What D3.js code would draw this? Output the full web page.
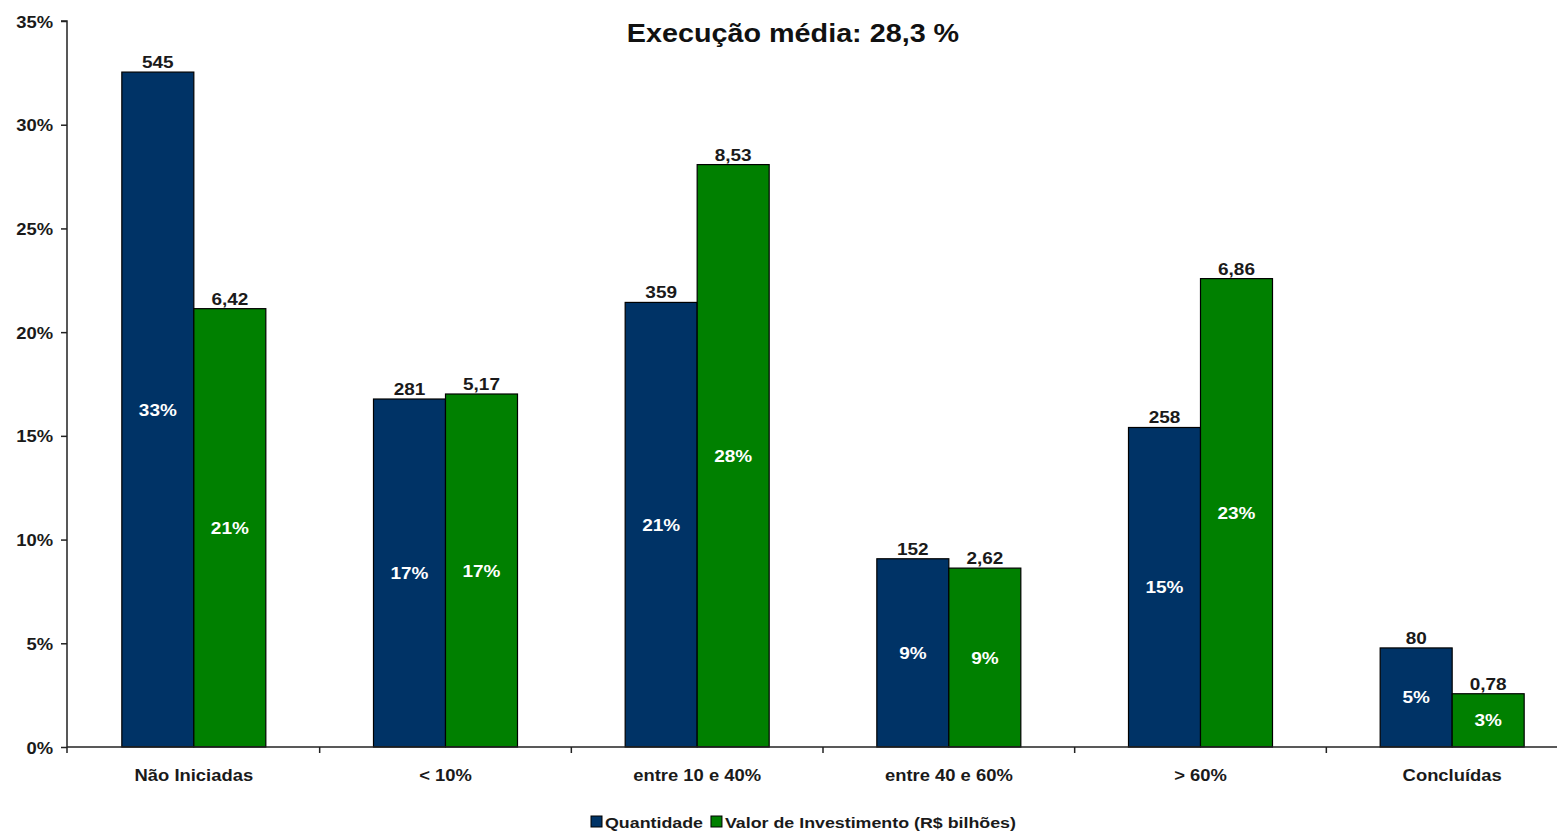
<!DOCTYPE html>
<html>
<head>
<meta charset="utf-8">
<script src="https://cdn.jsdelivr.net/npm/d3@7"></script>
<style>
  html, body { margin: 0; padding: 0; background: #fff; }
  svg text { font-family: "Liberation Sans", Arial, sans-serif; font-weight: bold; }
</style>
</head>
<body>
<svg id="chart" width="1557" height="833"></svg>
<script>
// Obras por faixa de execução
const categories = ["Não Iniciadas", "< 10%", "entre 10 e 40%", "entre 40 e 60%", "> 60%", "Concluídas"];
const quantidade = [545, 281, 359, 152, 258, 80];
const investimento = [6.42, 5.17, 8.53, 2.62, 6.86, 0.78];
const yTicks = [0, 0.05, 0.10, 0.15, 0.20, 0.25, 0.30, 0.35];
const seriesNames = ["Quantidade", "Valor de Investimento (R$ bilhões)"];
const title = "Execução média: 28,3 %";

const colors = ["#003366", "#008000"];
const sx = 1.15; // horizontal stretch of lettering

const totalQ = d3.sum(quantidade);
const totalI = d3.sum(investimento);
const fmtComma = v => v.toFixed(2).replace(".", ",");

const data = categories.map((c, i) => ({
  cat: c,
  vals: [
    { s: 0, share: quantidade[i] / totalQ, label: String(quantidade[i]) },
    { s: 1, share: investimento[i] / totalI, label: fmtComma(investimento[i]) }
  ]
}));

const svg = d3.select("#chart");
const mLeft = 68, mRight = 1578, mTop = 21, mBottom = 747;

const x = d3.scaleBand().domain(categories).range([mLeft, mRight]).paddingInner(0).paddingOuter(0);
const groupW = 144;
const xs = d3.scaleBand().domain([0, 1]).range([0, groupW]).padding(0);
const y = d3.scaleLinear().domain([0, 0.35]).range([mBottom, mTop]);

const place = (px, py) => `translate(${px},${py}) scale(${sx},1)`;

// y axis
const yAxis = d3.axisLeft(y).tickValues(yTicks).tickSize(6).tickPadding(8)
  .tickFormat(d => Math.round(d * 100) + "%");
const gy = svg.append("g").attr("transform", `translate(${mLeft - 1},0)`).call(yAxis);
gy.select(".domain").attr("stroke", "#222").attr("stroke-width", 1.5).attr("d", `M-6,${mTop}H0V${mBottom + 6}`);
gy.selectAll(".tick line").attr("stroke", "#222").attr("stroke-width", 1.5);
gy.selectAll(".tick text")
  .attr("x", 0).attr("dy", null).attr("y", 6)
  .attr("transform", place(-14, 0))
  .attr("fill", "#1a1a1a").style("font-size", "16px");

// bars
const groups = svg.append("g").selectAll("g").data(data).join("g")
  .attr("transform", d => `translate(${x(d.cat) + x.bandwidth() / 2 - groupW / 2},0)`);

groups.selectAll("rect").data(d => d.vals).join("rect")
  .attr("x", d => xs(d.s))
  .attr("y", d => y(d.share))
  .attr("width", xs.bandwidth())
  .attr("height", d => mBottom - y(d.share))
  .attr("fill", d => colors[d.s])
  .attr("stroke", "#000")
  .attr("stroke-width", 1.2);

// value labels above bars
groups.selectAll("text.val").data(d => d.vals).join("text")
  .attr("class", "val")
  .attr("transform", d => place(xs(d.s) + xs.bandwidth() / 2, y(d.share) - 4))
  .attr("text-anchor", "middle")
  .attr("fill", "#1a1a1a")
  .style("font-size", "16.5px")
  .text(d => d.label);

// share labels inside bars
groups.selectAll("text.pct").data(d => d.vals).join("text")
  .attr("class", "pct")
  .attr("transform", d => place(xs(d.s) + xs.bandwidth() / 2, (y(d.share) + mBottom) / 2 + 6))
  .attr("text-anchor", "middle")
  .attr("fill", "#fff")
  .style("font-size", "16.5px")
  .text(d => Math.round(d.share * 100) + "%");

// x axis
const gx = svg.append("g").attr("transform", `translate(0,${mBottom})`);
gx.append("line").attr("x1", mLeft - 1).attr("x2", mRight).attr("y1", 0).attr("y2", 0)
  .attr("stroke", "#222").attr("stroke-width", 1.5);
gx.selectAll("line.sep").data(categories.slice(1)).join("line")
  .attr("class", "sep")
  .attr("x1", d => x(d)).attr("x2", d => x(d))
  .attr("y1", 0).attr("y2", 6)
  .attr("stroke", "#222").attr("stroke-width", 1.5);
gx.selectAll("text").data(categories).join("text")
  .attr("transform", d => place(x(d) + x.bandwidth() / 2, 34))
  .attr("text-anchor", "middle")
  .attr("fill", "#1a1a1a")
  .style("font-size", "16px")
  .text(d => d);

// title
svg.append("text")
  .attr("transform", place(793, 42))
  .attr("text-anchor", "middle")
  .attr("fill", "#111")
  .style("font-size", "25px")
  .text(title);

// legend
const legend = svg.append("g").attr("transform", "translate(591,828)");
let lx = 0;
seriesNames.forEach((name, i) => {
  legend.append("rect").attr("x", lx).attr("y", -12).attr("width", 11).attr("height", 11)
    .attr("fill", colors[i]).attr("stroke", "#000").attr("stroke-width", 1);
  const t = legend.append("text").attr("transform", place(lx + 14, 0))
    .attr("fill", "#1a1a1a").style("font-size", "15.5px").text(name);
  lx += 14 + t.node().getComputedTextLength() * sx + 8;
});
</script>
</body>
</html>
